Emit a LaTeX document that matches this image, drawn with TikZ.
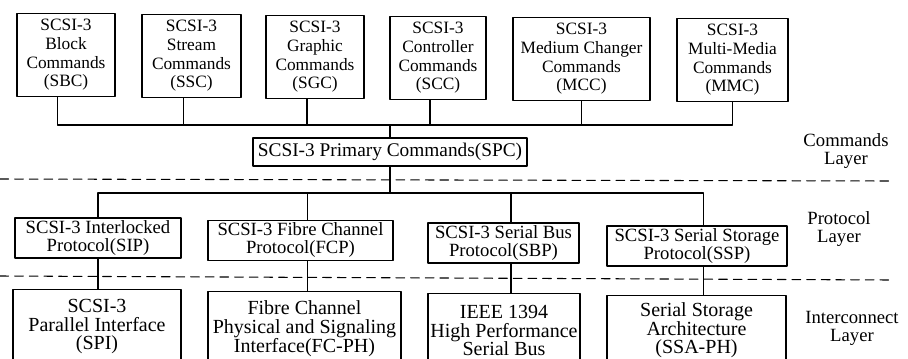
\documentclass[tikz,border=0pt]{standalone}
\usepackage{fontspec}
\setmainfont{Liberation Serif}
\begin{document}
\begin{tikzpicture}[x=0.75pt,y=-0.75pt,line cap=round,line join=round,
  cmdbox/.style={draw,line width=0.8pt,inner sep=1pt,align=center,minimum height=62pt,
    font=\fontsize{13}{14}\selectfont},
  spcbox/.style={draw,line width=0.8pt,inner sep=1pt,minimum height=21pt,
    font=\fontsize{14.5}{16}\selectfont},
  protbox/.style={draw,line width=0.8pt,inner sep=1pt,align=center,minimum height=30pt,
    font=\fontsize{14}{13.5}\selectfont},
  linkbox/.style={draw,line width=0.8pt,inner sep=1pt,align=center,minimum height=55.5pt,
    anchor=north,font=\fontsize{15}{14}\selectfont},
  layertext/.style={align=center,font=\fontsize{14}{13.5}\selectfont},
  wire/.style={line width=0.8pt},
  sepline/.style={line width=0.8pt,dash pattern=on 6.5pt off 4.5pt}]
  \clip (0,0) rectangle (908,358);
  % commands layer
  \node[cmdbox,minimum width=73.5pt]  (sbc) at (66,55)    {SCSI-3\\Block\\Commands\\(SBC)};
  \node[cmdbox,minimum width=74.25pt] (ssc) at (191.5,56) {SCSI-3\\Stream\\Commands\\(SSC)};
  \node[cmdbox,minimum width=73.5pt]  (sgc) at (315,57)   {SCSI-3\\Graphic\\Commands\\(SGC)};
  \node[cmdbox,minimum width=72pt]    (scc) at (438,58)   {SCSI-3\\Controller\\Commands\\(SCC)};
  \node[cmdbox,minimum width=102.75pt] (mcc) at (581.5,59) {SCSI-3\\Medium Changer\\Commands\\(MCC)};
  \node[cmdbox,minimum width=83.25pt] (mmc) at (732.5,60) {SCSI-3\\Multi-Media\\Commands\\(MMC)};
  \coordinate (cbus) at (0,125);
  \draw[wire] ([xshift=-6.5pt]sbc.south) |- (cbus -| mmc.south) -- (mmc.south);
  \foreach \n/\s in {ssc/-6.2pt,sgc/-6pt,scc/-6pt,mcc/0pt}
    \draw[wire] ([xshift=\s]\n.south) -- ([xshift=\s]\n.south |- cbus);
  \node[spcbox,minimum width=205.5pt] (spc) at (390,152) {SCSI-3 Primary Commands(SPC)};
  \draw[wire] (spc.north) -- (spc.north |- cbus);
  \node[layertext] (cmdlayer) at (846,151) {Commands\\Layer};
  \draw[sepline] (0,179) -- (891,181);
  % protocol layer
  \node[protbox,minimum width=124.5pt]  (sip) at (98,238)    {SCSI-3 Interlocked\\Protocol(SIP)};
  \node[protbox,minimum width=138.75pt] (fcp) at (300.5,240.5) {SCSI-3 Fibre Channel\\Protocol(FCP)};
  \node[protbox,minimum width=113.25pt] (sbp) at (503.5,243) {SCSI-3 Serial Bus\\Protocol(SBP)};
  \node[protbox,minimum width=135pt]    (ssp) at (697,246)   {SCSI-3 Serial Storage\\Protocol(SSP)};
  \coordinate (pbus) at (0,193);
  \draw[wire] (spc.south) -- (spc.south |- pbus);
  \draw[wire] (sip.north) |- ([xshift=5.2pt]ssp.north |- pbus) -- ([xshift=5.2pt]ssp.north);
  \foreach \n/\s in {fcp/5pt,sbp/5.6pt}
    \draw[wire] ([xshift=\s]\n.north) -- ([xshift=\s]\n.north |- pbus);
  \node[layertext] (protlayer) at (839,229) {Protocol\\Layer};
  \draw[sepline] (0,276) -- (891,280);
  % interconnect layer
  \node[linkbox,minimum width=126pt]    (spi)  at (97,289)    {SCSI-3\\Parallel Interface\\(SPI)};
  \node[linkbox,minimum width=144.75pt] (fcph) at (304.5,291) {Fibre Channel\\Physical and Signaling\\Interface(FC-PH)};
  \node[linkbox,minimum width=114pt]    (ieee) at (504,293)   {IEEE 1394\\High Performance\\Serial Bus};
  \node[linkbox,minimum width=134.25pt,minimum height=52pt] (ssa)  at (696.5,295) {Serial Storage\\Architecture\\(SSA-PH)};
  \draw[wire] (sip.south) -- (sip.south |- spi.north);
  \draw[wire] ([xshift=5pt]fcp.south) -- ([xshift=5pt]fcp.south |- fcph.north);
  \draw[wire] ([xshift=5.6pt]sbp.south) -- ([xshift=5.6pt]sbp.south |- ieee.north);
  \draw[wire] ([xshift=5.2pt]ssp.south) -- ([xshift=5.2pt]ssp.south |- ssa.north);
  \node[layertext] (iclayer) at (852,328) {Interconnect\\Layer};
\end{tikzpicture}
\end{document}
